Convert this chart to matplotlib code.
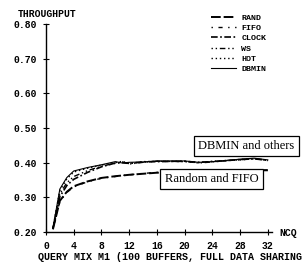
import matplotlib
matplotlib.use("Agg")
import matplotlib.pyplot as plt

# data
ncq = [1, 2, 3, 4, 6, 8, 10, 11, 12, 14, 16, 20, 22, 24, 28, 30, 32]
dbmin = [0.212, 0.324, 0.357, 0.376, 0.386, 0.394, 0.403, 0.399, 0.401, 0.402, 0.405, 0.405, 0.401, 0.403, 0.410, 0.413, 0.408]
hot = [0.212, 0.320, 0.353, 0.373, 0.384, 0.393, 0.400, 0.404, 0.397, 0.403, 0.404, 0.403, 0.400, 0.404, 0.408, 0.411, 0.407]
ws = [0.210, 0.310, 0.342, 0.360, 0.377, 0.390, 0.398, 0.402, 0.396, 0.401, 0.404, 0.404, 0.399, 0.402, 0.409, 0.412, 0.406]
clock = [0.210, 0.302, 0.334, 0.352, 0.372, 0.388, 0.399, 0.400, 0.398, 0.402, 0.403, 0.404, 0.401, 0.403, 0.409, 0.411, 0.407]
rand = [0.208, 0.290, 0.316, 0.332, 0.346, 0.356, 0.361, 0.363, 0.365, 0.368, 0.371, 0.372, 0.373, 0.375, 0.377, 0.378, 0.378]
fifo = [0.208, 0.288, 0.314, 0.330, 0.345, 0.355, 0.360, 0.363, 0.365, 0.369, 0.372, 0.373, 0.374, 0.375, 0.377, 0.378, 0.379]

series = ["RAND", "FIFO", "CLOCK", "WS", "HOT", "DBMIN"]
values = [rand, fifo, clock, ws, hot, dbmin]
styles = [(0, (5, 1.5)), (0, (1, 4, 3, 4)), (0, (4, 1.5, 1, 1.5)),
          (0, (1, 2, 1, 2, 4, 2)), (0, (1, 2)), "-"]
widths = [1.4, 1.0, 1.2, 1.0, 1.0, 0.8]

xticks = [0, 4, 8, 12, 16, 20, 24, 28, 32]
yticks = [0.20, 0.30, 0.40, 0.50, 0.60, 0.70, 0.80]

mono = "Liberation Mono"

fig = plt.figure(figsize=(3.06, 2.65), dpi=100)
ax = fig.add_axes([46 / 306, 33 / 265, 226 / 306, 208 / 265])

for name, y, ls, lw in zip(series, values, styles, widths):
    ax.plot(ncq, y, color="black", linestyle=ls, linewidth=lw, label=name)

ax.set_xlim(0, 32.6)
ax.set_ylim(0.20, 0.80)
ax.set_xticks(xticks)
ax.set_yticks(yticks)
ax.set_xticklabels([str(t) for t in xticks], fontfamily=mono, fontweight="bold", fontsize=7)
ax.set_yticklabels(["%.2f" % t for t in yticks], fontfamily=mono, fontweight="bold", fontsize=7)
ax.tick_params(direction="inout", length=5, width=0.8, pad=4)
for s in ["top", "right"]:
    ax.spines[s].set_visible(False)
for s in ["left", "bottom"]:
    ax.spines[s].set_linewidth(1.0)

fig.text(18 / 306, 1 - 14 / 265, "THROUGHPUT", fontfamily=mono, fontweight="bold",
         fontsize=7, va="center", ha="left")
fig.text(279 / 306, 1 - 233 / 265, "NCQ", fontfamily=mono, fontweight="bold",
         fontsize=7, va="center", ha="left")
fig.text(38 / 306, 1 - 257 / 265, "QUERY MIX M1 (100 BUFFERS, FULL DATA SHARING",
         fontfamily=mono, fontweight="bold", fontsize=7.2, va="center", ha="left")

leg = ax.legend(loc="upper left", bbox_to_anchor=(0.695, 1.085), frameon=False,
                prop={"family": mono, "weight": "bold", "size": 6},
                handlelength=3.0, handletextpad=0.7, labelspacing=0.3)

box = dict(boxstyle="square,pad=0.35", facecolor="white", edgecolor="black", linewidth=0.9)
ax.text(28.9, 0.448, "DBMIN and others", fontfamily="Liberation Serif", fontsize=9,
        ha="center", va="center", bbox=box, zorder=5)
ax.text(23.85, 0.353, "Random and FIFO", fontfamily="Liberation Serif", fontsize=9,
        ha="center", va="center", bbox=box, zorder=5)

fig.savefig("out.png", dpi=100)
